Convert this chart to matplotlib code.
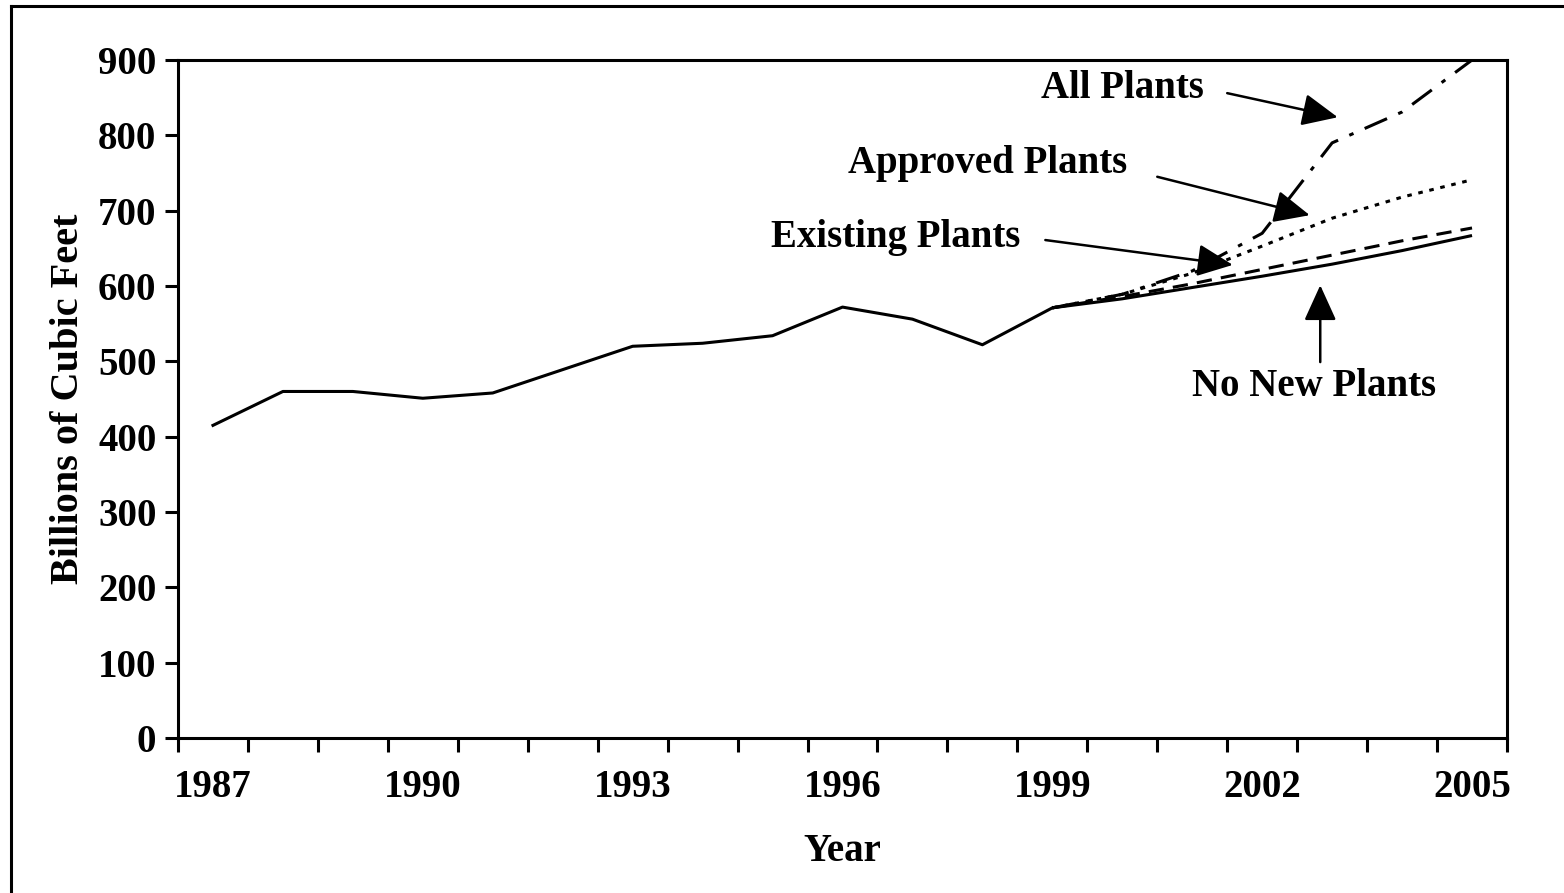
import matplotlib
matplotlib.use('Agg')
import matplotlib.pyplot as plt
from matplotlib.lines import Line2D

# Years on the category axis
years = list(range(1987, 2006))

# Historical values, 1987-1999 (billions of cubic feet)
history = [415, 460, 460, 451, 458, 489, 520, 524, 534, 572, 556, 522, 571]

# Forecast values, 2000-2005
no_new_plants = [583, 598, 613, 629, 647, 667]
existing_plants = [586, 603, 622, 641, 660, 677]
approved_plants = [589, 617, 653, 690, 718, 741]
all_plants = [589, 620, 670, 790, 831, 900]

# Annotation labels
labels = ['All Plants', 'Approved Plants', 'Existing Plants', 'No New Plants']

plt.rcParams['font.family'] = ['Liberation Serif', 'DejaVu Serif']
plt.rcParams['font.weight'] = 'bold'

fig = plt.figure(figsize=(15.64, 8.93), dpi=100)
ax = fig.add_axes([178 / 1564, 1 - 738 / 893, (1507 - 178) / 1564, (738 - 60) / 893])

# outer frame (only left and top edges visible)
fig.add_artist(Line2D([11 / 1564, 11 / 1564], [0, 1 - 6 / 893], transform=fig.transFigure,
                      color='black', lw=2.2))
fig.add_artist(Line2D([11 / 1564, 1], [1 - 6 / 893, 1 - 6 / 893], transform=fig.transFigure,
                      color='black', lw=2.2))

idx = list(range(len(years)))
n_hist = len(history)
fc_x = idx[n_hist - 1:]
lw = 2.2

ax.plot(idx[:n_hist], history, color='black', lw=lw)
ax.plot(fc_x, [history[-1]] + no_new_plants, color='black', lw=lw, solid_capstyle='butt')
ax.plot(fc_x, [history[-1]] + existing_plants, color='black', lw=lw, dashes=(5, 3))
ax.plot(fc_x, [history[-1]] + approved_plants, color='black', lw=lw, dashes=(1.5, 2.2))
ax.plot(fc_x, [history[-1]] + all_plants, color='black', lw=lw, dashes=(8, 4, 1.5, 4))

ax.set_xlim(-0.5, len(years) - 0.5)
ax.set_ylim(0, 900)
ax.set_yticks(range(0, 901, 100))

fs = 28

# category boundaries get tick marks, labels sit between them
ax.set_xticks([i - 0.5 for i in range(len(years) + 1)], minor=True)
ax.set_xticks(idx[::3])
ax.set_xticklabels([str(y) for y in years[::3]])
ax.tick_params(axis='x', which='major', length=0, pad=22, labelsize=fs)
ax.tick_params(axis='x', which='minor', length=10, width=2.2, direction='out')
ax.tick_params(axis='y', length=9.5, width=2.2, direction='out', pad=6, labelsize=fs)

for s in ax.spines.values():
    s.set_linewidth(2.2)

ax.set_xlabel('Year', fontsize=fs, fontweight='bold', labelpad=20)
ax.set_ylabel('Billions of Cubic Feet', fontsize=29, fontweight='bold', labelpad=8)

# text labels and arrows
text_pos = [(13.0, 862), (11.08, 763), (9.76, 665), (15.74, 466)]
arrow_from = [(14.5, 856), (13.5, 745), (11.9, 661), (15.83, 499)]
arrow_to = [(16.08, 824), (15.68, 694), (14.58, 628), (15.83, 601)]

for lab, tp, a0, a1 in zip(labels, text_pos, arrow_from, arrow_to):
    ax.text(tp[0], tp[1], lab, ha='center', va='center', fontsize=fs, fontweight='bold')
    ax.annotate('', xy=a1, xytext=a0,
                arrowprops=dict(arrowstyle='-|>,head_length=1.1,head_width=0.5',
                                color='black', lw=1.8, mutation_scale=20,
                                shrinkA=0, shrinkB=0))

fig.savefig('out.png', dpi=100)
